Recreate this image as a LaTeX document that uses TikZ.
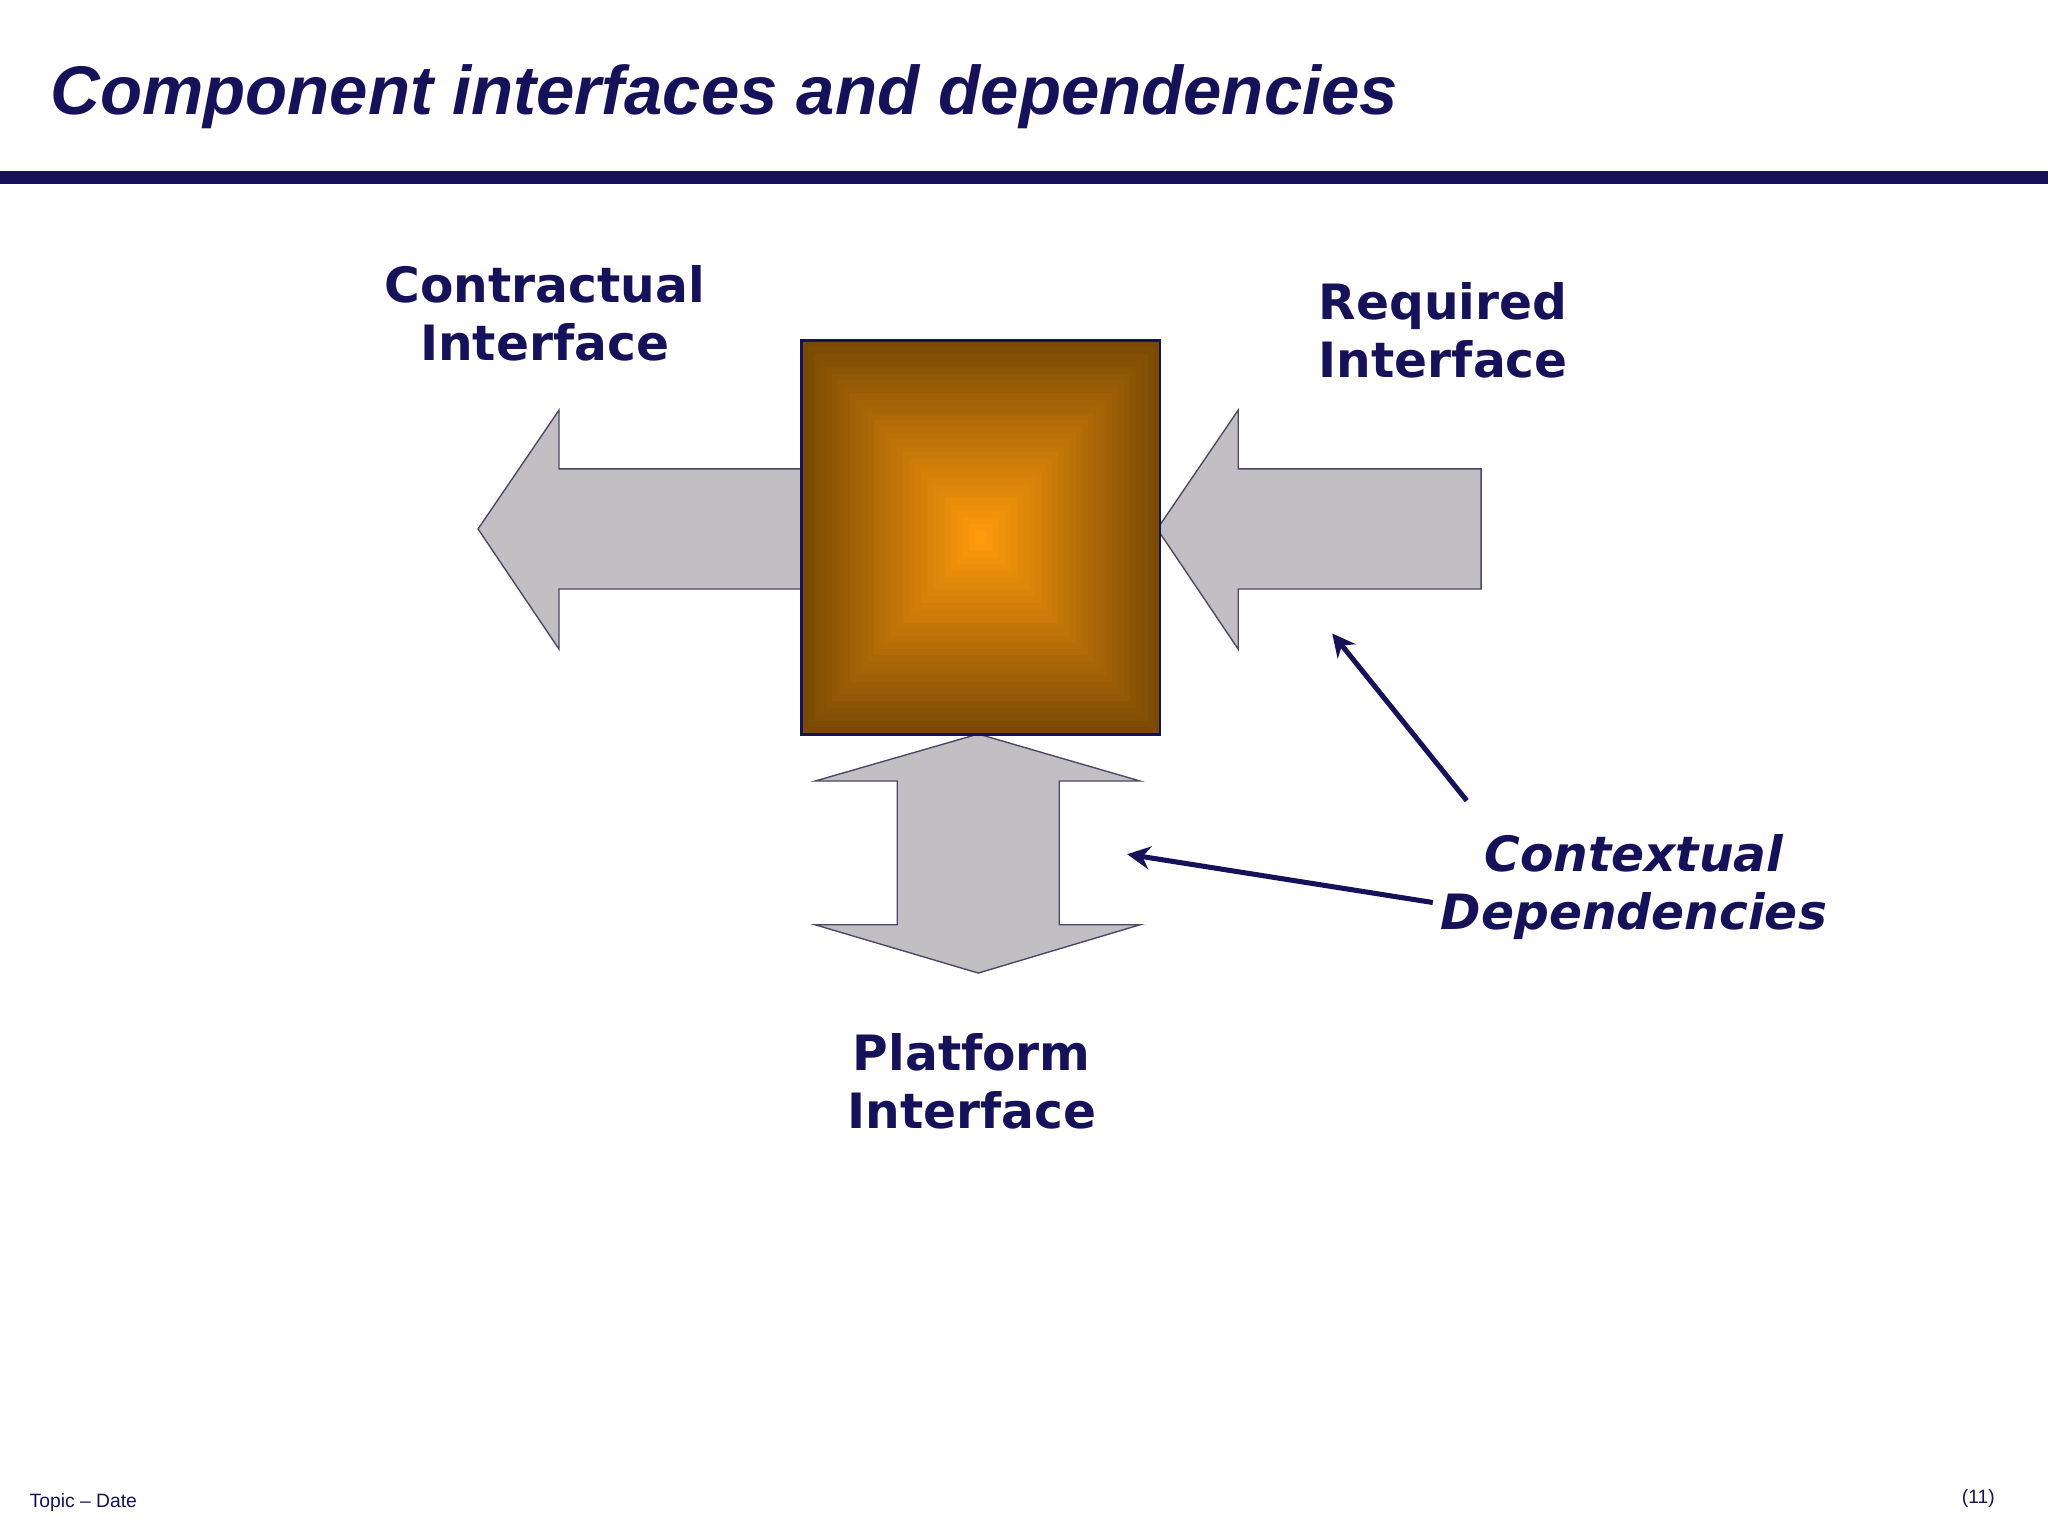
\documentclass[tikz,border=0pt]{standalone}
\usepackage{fontspec}
\usetikzlibrary{arrows.meta}
\setmainfont{DejaVu Sans}
\newfontfamily\arialf{Liberation Sans}
\begin{document}
\begin{tikzpicture}[x=0.01cm,y=-0.01cm,
  lbl/.style={font=\fontsize{10.6pt}{12.6pt}\selectfont\bfseries, text=navy, align=center},
  bigarrow/.style={fill=arrowgray, draw=edgegray, line width=0.3pt},
  dep/.style={draw=navy, line width=1.1pt, -{Stealth[length=5pt,width=5pt]}}]
\definecolor{navy}{HTML}{16125A}
\definecolor{arrowgray}{HTML}{C1BFC3}
\definecolor{edgegray}{HTML}{4A4866}
\definecolor{cout}{HTML}{7A4A04}
\definecolor{cin}{HTML}{FF9A0C}
\useasboundingbox (0,0) rectangle (1568,1176);
\node[anchor=base west, inner sep=0, text=navy, font=\arialf\fontsize{15pt}{18pt}\selectfont\bfseries\itshape] (title) at (38,88) {Component interfaces and dependencies};
\fill[navy] (0,131) rectangle (1568,141);
% arrows
\draw[bigarrow] (614,359) -- (428,359) -- (428,314) -- (366,405) -- (428,497) -- (428,451) -- (614,451) -- cycle;
\draw[bigarrow] (1134,359) -- (948,359) -- (948,314) -- (886,405) -- (948,497) -- (948,451) -- (1134,451) -- cycle;
\draw[bigarrow] (749,562) -- (873,598) -- (811,598) -- (811,708) -- (873,708) -- (749,745) -- (624,708) -- (687,708) -- (687,598) -- (624,598) -- cycle;
% gradient square
\foreach \i in {0,...,29}{
  \pgfmathsetmacro\p{100*\i/29}
  \pgfmathsetmacro\dx{137*\i/30}
  \pgfmathsetmacro\dy{150.5*\i/30}
  \fill[cin!\p!cout] (614+\dx,261+\dy) rectangle (888-\dx,562-\dy);
}
\node[draw=navy, line width=0.6pt, minimum width=2.74cm, minimum height=3.01cm, inner sep=0] (comp) at (751,411.5) {};
\node[lbl] (contract) at (417,240) {Contractual\\Interface};
\node[lbl] (required) at (1105,253) {Required\\Interface};
\node[lbl] (platform) at (744,828) {Platform\\Interface};
\node[lbl, font=\fontsize{10.6pt}{12.6pt}\selectfont\bfseries\itshape] (ctx) at (1251,679) {Contextual\\Dependencies};
\coordinate (a1s) at (1123,613); \coordinate (a1e) at (1020,485);
\coordinate (a2s) at (1097,691); \coordinate (a2e) at (863,654);
\draw[dep] (a1s) -- (a1e);
\draw[dep] (a2s) -- (a2e);
\node[anchor=base west, inner sep=0, text=navy, font=\arialf\fontsize{4.2pt}{5pt}\selectfont] (foot) at (22,1154) {Topic – Date};
\node[anchor=base east, inner sep=0, text=navy, font=\arialf\fontsize{4.2pt}{5pt}\selectfont] (page) at (1528,1151) {(11)};
\end{tikzpicture}
\end{document}
